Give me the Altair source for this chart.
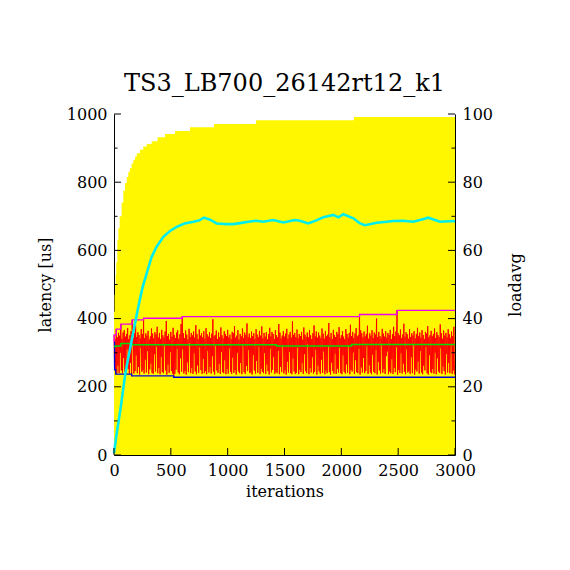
import altair as alt
import pandas as pd

TITLE = "TS3_LB700_26142rt12_k1"
FONT = "DejaVu Serif"

# yellow filled series (left-axis units)
fill_it = [0, 5, 10, 15, 20, 29, 38, 50, 67, 82, 97, 112, 126, 141, 155, 170, 185, 200, 229, 258,
           288, 332, 384, 449, 537, 669, 880, 1249, 2111, 3000]
fill_val = [420, 470, 500, 530, 565, 630, 665, 700, 740, 775, 798, 815, 831, 842, 855, 865, 875, 885, 895, 905,
            912, 920, 932, 941, 950, 961, 971, 982, 991, 991]

# cyan curve
cy_it = [0, 20, 60, 100, 156, 214, 250, 288, 330, 375, 434, 493, 551, 620, 700, 750, 792, 845, 903, 991,
         1050, 1108, 1196, 1250, 1313, 1401, 1490, 1592, 1636, 1710, 1780, 1842, 1930, 1974, 2018, 2106, 2160, 2208, 2311, 2400,
         2457, 2545, 2633, 2700, 2765, 2868, 2985, 3000]
cy_val = [5, 55, 142, 240, 337, 435, 490, 533, 580, 611, 640, 657, 669, 679, 684, 688, 696, 690, 679, 677,
          677, 680, 685, 687, 684, 689, 682, 689, 687, 679, 688, 697, 704, 697, 706, 694, 680, 674, 681, 684,
          686, 687, 684, 690, 696, 684, 686, 685]

# running max (magenta), running min (blue), average (green)
max_it = [0, 2, 20, 60, 160, 260, 600, 2160, 2490, 3000]
max_val = [330, 352, 369, 384, 396, 401, 406, 412, 424, 424]
min_it = [0, 5, 15, 155, 525, 3000]
min_val = [330, 250, 237, 232, 228, 228]
avg_it = [0, 15, 60, 156, 1430, 2090, 3000]
avg_val = [318, 320, 327, 323, 320, 324, 324]

# latency samples: high sample at 10k, low sample at 10k+5
lat_hi = [
    352, 340, 369, 345, 358, 350, 384, 341, 359, 366, 347, 355, 372, 340, 351, 363, 396, 344, 358, 379,
    346, 360, 352, 341, 369, 355, 401, 343, 357, 350, 364, 339, 348, 371, 356, 342, 360, 353, 376, 345,
    358, 340, 367, 351, 344, 362, 393, 349, 355, 338, 361, 347, 373, 352, 343, 359, 366, 341, 354, 384,
    406, 357, 342, 365, 353, 339, 370, 346, 358, 351, 362, 344, 381, 355, 340, 368, 350, 357, 345, 363,
    341, 372, 354, 347, 360, 343, 356, 398, 348, 352, 365, 340, 359, 346, 374, 351, 342, 363, 355, 349,
    367, 345, 353, 340, 361, 357, 378, 344, 350, 366, 339, 355, 348, 371, 342, 359, 352, 386, 346, 356,
    343, 362, 349, 357, 341, 369, 353, 345, 364, 350, 377, 342, 358, 347, 360, 339, 354, 373, 348, 361,
    355, 340, 366, 351, 345, 384, 359, 342, 350, 363, 347, 356, 370, 341, 353, 361, 344, 392, 352, 358,
    346, 368, 342, 355, 349, 361, 338, 374, 353, 347, 359, 345, 366, 351, 340, 357, 380, 348, 362, 344,
    359, 350, 343, 371, 356, 341, 364, 348, 353, 387, 345, 358, 340, 367, 352, 346, 361, 355, 375, 342,
    351, 363, 347, 340, 369, 355, 344, 358, 382, 349, 361, 343, 356, 372, 348, 352, 412, 366, 357, 345,
    362, 348, 355, 379, 341, 357, 350, 366, 343, 359, 353, 400, 346, 361, 349, 342, 370, 356, 347, 363,
    344, 358, 352, 367, 340, 355, 376, 349, 362, 424, 357, 351, 368, 342, 353, 385, 347, 360, 354, 341,
    369, 346, 357, 350, 363, 342, 355, 373, 348, 359, 344, 366, 352, 340, 361, 356, 378, 345, 351, 364,
    348, 355, 371, 343, 360, 352, 346, 383, 357, 341, 365, 350, 358, 345, 369, 354, 342, 362, 349, 376,
]
lat_lo = [
    250, 238, 240, 262, 241, 300, 248, 240, 285, 244, 240, 310, 252, 239, 270, 232, 325, 239, 246, 292,
    240, 258, 236, 315, 244, 249, 239, 280, 242, 305, 237, 251, 268, 241, 238, 296, 245, 318, 240, 255,
    237, 288, 243, 240, 322, 248, 236, 265, 241, 302, 246, 239, 228, 238, 250, 311, 242, 237, 284, 244,
    310, 239, 247, 236, 272, 243, 328, 240, 255, 238, 298, 245, 237, 263, 241, 316, 249, 238, 282, 240,
    246, 237, 306, 242, 258, 239, 290, 244, 236, 320, 248, 241, 267, 238, 303, 243, 240, 278, 237, 252,
    239, 313, 244, 238, 286, 241, 249, 236, 300, 245, 240, 270, 237, 325, 243, 238, 261, 246, 308, 240,
    242, 236, 294, 248, 239, 276, 241, 318, 237, 253, 244, 240, 299, 238, 265, 246, 236, 312, 242, 250,
    288, 238, 244, 240, 305, 237, 259, 243, 321, 239, 248, 236, 274, 242, 302, 240, 237, 283, 245, 238,
    241, 315, 237, 250, 243, 269, 238, 296, 246, 240, 326, 237, 255, 242, 287, 239, 244, 309, 236, 262,
    245, 238, 280, 241, 304, 237, 248, 240, 318, 243, 236, 271, 246, 239, 297, 238, 253, 242, 314, 240,
    237, 292, 244, 239, 266, 241, 323, 237, 250, 245, 301, 238, 278, 243, 240, 311, 236, 257, 242, 285,
    240, 246, 319, 238, 263, 242, 237, 295, 244, 240, 308, 236, 273, 248, 239, 327, 241, 252, 238, 290,
    304, 237, 245, 240, 281, 238, 256, 243, 316, 236, 249, 241, 298, 239, 268, 244, 237, 310, 242, 246,
    238, 287, 240, 323, 236, 251, 245, 274, 239, 306, 242, 237, 262, 248, 317, 240, 236, 293, 243, 240,
    252, 239, 300, 237, 284, 245, 241, 313, 238, 259, 246, 236, 297, 242, 270, 240, 325, 238, 248, 236,
]

x_ticks = [0, 500, 1000, 1500, 2000, 2500, 3000]
y_major = [0, 200, 400, 600, 800, 1000]
y_minor = [100, 300, 500, 700, 900]
r_major = [0, 20, 40, 60, 80, 100]
r_minor = [10, 30, 50, 70, 90]

W, H = 341, 341

lat_rows = []
for k in range(len(lat_hi)):
    lat_rows.append({"it": 10 * k, "v": lat_hi[k]})
    lat_rows.append({"it": 10 * k + 5, "v": lat_lo[k]})
lat_df = pd.DataFrame(lat_rows)

fill_df = pd.DataFrame({"it": fill_it, "v": fill_val})
cy_df = pd.DataFrame({"it": cy_it, "v": cy_val})
max_df = pd.DataFrame({"it": max_it, "v": max_val})
min_df = pd.DataFrame({"it": min_it, "v": min_val})
avg_df = pd.DataFrame({"it": avg_it, "v": avg_val})

xscale = alt.Scale(domain=[0, 3000], nice=False, zero=False)
yscale = alt.Scale(domain=[0, 1000], nice=False)

xaxis = alt.Axis(values=x_ticks, format="d", ticks=False, grid=False, domain=True, domainColor="black",
                 labelFont=FONT, labelFontSize=16, labelColor="black", labelPadding=7,
                 labelFlush=False, title="iterations", titleFont=FONT, titleFontSize=16,
                 titleFontWeight="normal", titleColor="black", titleX=170.5, titleY=36,
                 titleAlign="center", titleBaseline="middle")
yaxis = alt.Axis(values=y_major, format="d", ticks=False, grid=False, domain=True, domainColor="black",
                 labelFont=FONT, labelFontSize=16, labelColor="black", labelPadding=7,
                 title="latency [us]", titleFont=FONT, titleFontSize=16, titleFontWeight="normal",
                 titleColor="black", titleX=-69, titleY=170.5, titleAngle=270,
                 titleAlign="center", titleBaseline="middle")
raxis = alt.Axis(values=r_major, format="d", orient="right", ticks=False, grid=False, domain=True,
                 domainColor="black", labelFont=FONT, labelFontSize=16, labelColor="black",
                 labelPadding=7, title="loadavg", titleFont=FONT, titleFontSize=16,
                 titleFontWeight="normal", titleColor="black", titleX=60, titleY=170.5,
                 titleAngle=270, titleAlign="center", titleBaseline="middle")

X = alt.X("it:Q", scale=xscale, axis=xaxis)
Y = alt.Y("v:Q", scale=yscale, axis=yaxis)

fill = alt.Chart(fill_df).mark_area(interpolate="step-after", color="#fff700", opacity=1).encode(x=X, y=Y)
lat = alt.Chart(lat_df).mark_line(color="#ff0000", strokeWidth=1).encode(x=X, y=Y)
mx = alt.Chart(max_df).mark_line(interpolate="step-after", color="#ee00ee", strokeWidth=1.3).encode(x=X, y=Y)
mn = alt.Chart(min_df).mark_line(interpolate="step-after", color="#0000dd", strokeWidth=1.3).encode(x=X, y=Y)
av = alt.Chart(avg_df).mark_line(interpolate="step-after", color="#00dd00", strokeWidth=1.5).encode(x=X, y=Y)
cy = alt.Chart(cy_df).mark_line(color="#00eeee", strokeWidth=2.6).encode(x=X, y=Y)

ymaj = alt.Chart(pd.DataFrame({"v": y_major})).mark_rule(color="black", strokeWidth=1).encode(
    y=Y, x=alt.value(0), x2=alt.value(7))
ymin = alt.Chart(pd.DataFrame({"v": y_minor})).mark_rule(color="black", strokeWidth=1).encode(
    y=Y, x=alt.value(0), x2=alt.value(3.5))
xt = alt.Chart(pd.DataFrame({"it": x_ticks})).mark_rule(color="black", strokeWidth=1).encode(
    x=X, y=alt.value(H), y2=alt.value(H - 7))

left = alt.layer(fill, lat, mx, mn, av, cy, ymaj, ymin, xt)

RY = alt.Y("lv:Q", scale=alt.Scale(domain=[0, 100], nice=False), axis=raxis)
rmaj = alt.Chart(pd.DataFrame({"lv": r_major})).mark_rule(color="black", strokeWidth=1).encode(
    y=RY, x=alt.value(W - 7), x2=alt.value(W))
rmin = alt.Chart(pd.DataFrame({"lv": r_minor})).mark_rule(color="black", strokeWidth=1).encode(
    y=RY, x=alt.value(W - 3.5), x2=alt.value(W))
right = alt.layer(rmaj, rmin)

chart = alt.layer(left, right).resolve_scale(y="independent").properties(
    width=W, height=H,
    title=alt.TitleParams(TITLE, font=FONT, fontSize=24, fontWeight="normal", color="black",
                          anchor="middle", offset=10),
    autosize=alt.AutoSizeParams(type="none"),
    padding={"left": 106, "top": 106, "right": 100, "bottom": 100},
    background="white",
).configure_view(stroke="transparent")

chart.save("out.html", embed_options={"renderer": "svg", "actions": False})
